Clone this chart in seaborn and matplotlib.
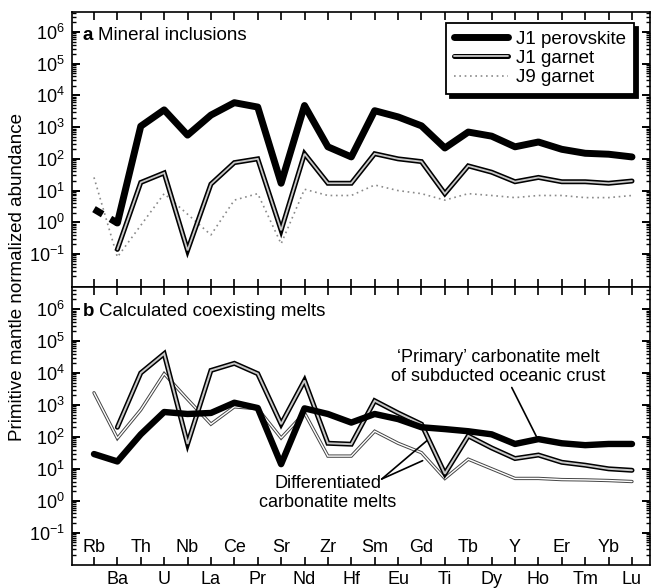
import numpy as np
import pandas as pd
import matplotlib
matplotlib.use("Agg")
import matplotlib.pyplot as plt
import matplotlib.patheffects as pe
import matplotlib.transforms as mtransforms
from matplotlib.lines import Line2D
from matplotlib.ticker import LogLocator, FixedLocator, NullFormatter
import seaborn as sns

nan = np.nan
elements = ['Rb', 'Ba', 'Th', 'U', 'Nb', 'La', 'Ce', 'Pr', 'Sr', 'Nd', 'Zr', 'Hf',
            'Sm', 'Eu', 'Gd', 'Ti', 'Tb', 'Dy', 'Y', 'Ho', 'Er', 'Tm', 'Yb', 'Lu']

# panel a: mineral inclusions
j1_perovskite = [2.6, 0.95, 1070, 3500, 560, 2400, 5900, 4300, 17, 4800, 240, 115,
                 3300, 2100, 1100, 220, 700, 520, 240, 340, 200, 150, 140, 115]
j1_garnet = [nan, 0.14, 18, 36, 0.13, 16, 76, 100, 0.56, 145, 17, 17,
             145, 100, 82, 8, 60, 38, 19, 26, 19, 19, 17, 20]
j9_garnet = [26, 0.08, 0.8, 8, 1.8, 0.4, 5, 8, 0.21, 11, 7, 7,
             15, 10, 8, 5, 8, 7, 6, 7, 7, 6, 6, 7]

# panel b: calculated coexisting melts
primary_melt = [29, 17, 120, 600, 520, 560, 1170, 800, 14, 780, 520, 280,
                520, 360, 200, 175, 150, 120, 60, 85, 63, 55, 60, 60]
j1_garnet_melt = [nan, 200, 10000, 40000, 60, 12000, 20000, 9500, 250, 5800, 63, 59,
                  1350, 560, 250, 7, 107, 45, 21, 27, 16, 13, 10, 9]
j9_garnet_melt = [2400, 90, 700, 9500, 1500, 250, 870, 760, 92, 560, 25, 25,
                  150, 63, 32, 5, 20, 10, 5, 5, 4.6, 4.5, 4.3, 4]

legend_labels = ['J1 perovskite', 'J1 garnet', 'J9 garnet']
ytick_exponents = [-1, 0, 1, 2, 3, 4, 5, 6]

sns.set_theme(style='ticks')
plt.rcParams['font.family'] = ['Liberation Sans', 'DejaVu Sans']
plt.rcParams['mathtext.fontset'] = 'custom'
plt.rcParams['mathtext.rm'] = 'Liberation Sans'
plt.rcParams['mathtext.it'] = 'Liberation Sans:italic'
plt.rcParams['mathtext.bf'] = 'Liberation Sans:bold'
plt.rcParams['mathtext.default'] = 'regular'
plt.rcParams['axes.linewidth'] = 1.2
plt.rcParams['axes.edgecolor'] = 'black'
plt.rcParams['text.color'] = 'black'
plt.rcParams['axes.labelcolor'] = 'black'
plt.rcParams['xtick.color'] = 'black'
plt.rcParams['ytick.color'] = 'black'
plt.rcParams['legend.labelcolor'] = 'black'

pos = np.arange(len(elements))


def frame(vals):
    return pd.DataFrame({'pos': pos, 'value': np.asarray(vals, dtype=float)})


fig = plt.figure(figsize=(6.52, 5.88), dpi=100)
L, W = 72 / 652, 578 / 652
ax_a = fig.add_axes([L, 301 / 588, W, 275 / 588])
ax_b = fig.add_axes([L, 23 / 588, W, 278 / 588])

FS = 13
hollow_dark = [pe.Stroke(linewidth=3.6, foreground='black'), pe.Normal()]
hollow_thin = [pe.Stroke(linewidth=2.4, foreground='#444444'), pe.Normal()]

for ax in (ax_a, ax_b):
    ax.set_yscale('log')

# ---- panel a
dfp = frame(j1_perovskite)
sns.lineplot(data=dfp.iloc[:2], x='pos', y='value', ax=ax_a, color='black', lw=5,
             linestyle=(0, (1.45, 1.3)), dash_capstyle='butt', estimator=None, sort=False, zorder=5)
sns.lineplot(data=dfp.iloc[1:], x='pos', y='value', ax=ax_a, color='black', lw=5,
             estimator=None, sort=False, zorder=5, solid_joinstyle='round')
sns.lineplot(data=frame(j1_garnet), x='pos', y='value', ax=ax_a, color='#c8c8c8', lw=1.3,
             path_effects=hollow_dark, estimator=None, sort=False, zorder=4, solid_joinstyle='miter')
sns.lineplot(data=frame(j9_garnet), x='pos', y='value', ax=ax_a, color='#8a8a8a', lw=1.2,
             linestyle=(0, (1, 2.2)), estimator=None, sort=False, zorder=3)

# ---- panel b
sns.lineplot(data=frame(j9_garnet_melt), x='pos', y='value', ax=ax_b, color='white', lw=1.0,
             path_effects=hollow_thin, estimator=None, sort=False, zorder=3, solid_joinstyle='miter')
sns.lineplot(data=frame(j1_garnet_melt), x='pos', y='value', ax=ax_b, color='#c8c8c8', lw=1.4,
             path_effects=hollow_dark, estimator=None, sort=False, zorder=4, solid_joinstyle='miter')
sns.lineplot(data=frame(primary_melt), x='pos', y='value', ax=ax_b, color='black', lw=4.6,
             estimator=None, sort=False, zorder=5, solid_joinstyle='round')

for ax in (ax_a, ax_b):
    ax.set_xlim(-0.94, 23.77)
    ax.set_xlabel('')
    ax.set_ylabel('')
    ax.yaxis.set_major_locator(FixedLocator([10.0 ** e for e in ytick_exponents]))
    ax.set_yticklabels([r'$10^{%d}$' % e for e in ytick_exponents], fontsize=FS)
    ax.yaxis.set_minor_locator(LogLocator(base=10, subs=np.arange(2, 10), numticks=40))
    ax.yaxis.set_minor_formatter(NullFormatter())
    ax.tick_params(axis='y', which='major', direction='in', length=6, width=1.4,
                   left=True, right=True, pad=5, colors='black')
    ax.tick_params(axis='y', which='minor', direction='in', length=3, width=1.0,
                   left=True, right=True)
    ax.set_xticks(pos)
    ax.tick_params(axis='x', which='major', direction='in', length=6, width=1.2,
                   top=True, bottom=True, colors='black')
    ax.tick_params(axis='x', which='minor', bottom=False, top=False)
    for s in ax.spines.values():
        s.set_visible(True)
        s.set_color('black')

ax_a.set_ylim(10 ** -2.04, 10 ** 6.63)
ax_b.set_ylim(10 ** -2.01, 10 ** 6.69)
ax_a.tick_params(axis='x', labelbottom=False)

# bottom x labels: odd-index elements outside, even-index inside
ax_b.set_xticklabels([e if i % 2 == 1 else '' for i, e in enumerate(elements)], fontsize=FS)
ax_b.tick_params(axis='x', pad=4)
trans = mtransforms.blended_transform_factory(ax_b.transData, ax_b.transAxes)
for i, e in enumerate(elements):
    if i % 2 == 0:
        ax_b.text(i, 0.062, e, transform=trans, ha='center', va='center', fontsize=FS)

# panel labels
for ax, letter, title, yy in ((ax_a, 'a', 'Mineral inclusions', 0.915),
                              (ax_b, 'b', 'Calculated coexisting melts', 0.912)):
    t = ax.text(0.019, yy, letter, transform=ax.transAxes, fontsize=FS + 0.5,
                fontweight='bold', ha='left', va='center')
    ax.annotate(title, xy=(1, 0), xycoords=t, xytext=(3.5, 0), textcoords='offset points',
                fontsize=FS + 0.5, ha='left', va='bottom')

# legend
h1 = Line2D([], [], color='black', lw=5)
h2 = Line2D([], [], color='#c8c8c8', lw=1.3, path_effects=hollow_dark)
h3 = Line2D([], [], color='#8a8a8a', lw=1.2, linestyle=(0, (1, 2.2)))
leg = ax_a.legend([h1, h2, h3], legend_labels, loc='upper right', bbox_to_anchor=(0.972, 0.96),
                  borderaxespad=0, fontsize=FS + 0.5, handlelength=2.9, handletextpad=0.45,
                  labelspacing=0.12, borderpad=0.4, fancybox=False, framealpha=1,
                  shadow={'ox': 3, 'oy': -3, 'shade': 1.0, 'alpha': 1.0})
leg.get_frame().set_edgecolor('black')
leg.get_frame().set_linewidth(1.3)
leg.set_zorder(10)

# annotations in panel b
ax_b.text(17.3, 10 ** 4.2, '\u2018Primary\u2019 carbonatite melt\nof subducted oceanic crust',
          ha='center', va='center', fontsize=FS, linespacing=1.15)
ax_b.annotate('', xy=(18.97, 85), xytext=(17.86, 3500),
              arrowprops=dict(arrowstyle='-', lw=1.2, color='black', shrinkA=0, shrinkB=0))
ax_b.text(10.0, 10 ** 0.23, 'Differentiated\ncarbonatite melts',
          ha='center', va='center', fontsize=FS, linespacing=1.15)
for tx, ty in ((14.26, 79), (14.05, 18)):
    ax_b.annotate('', xy=(tx, ty), xytext=(12.3, 10 ** 0.68),
                  arrowprops=dict(arrowstyle='-', lw=1.2, color='black', shrinkA=0, shrinkB=0))

fig.text(18 / 652, 1 - 277 / 588, 'Primitive mantle normalized abundance', rotation=90,
         ha='center', va='center', fontsize=FS + 0.5)

fig.savefig('out.png', dpi=100)
